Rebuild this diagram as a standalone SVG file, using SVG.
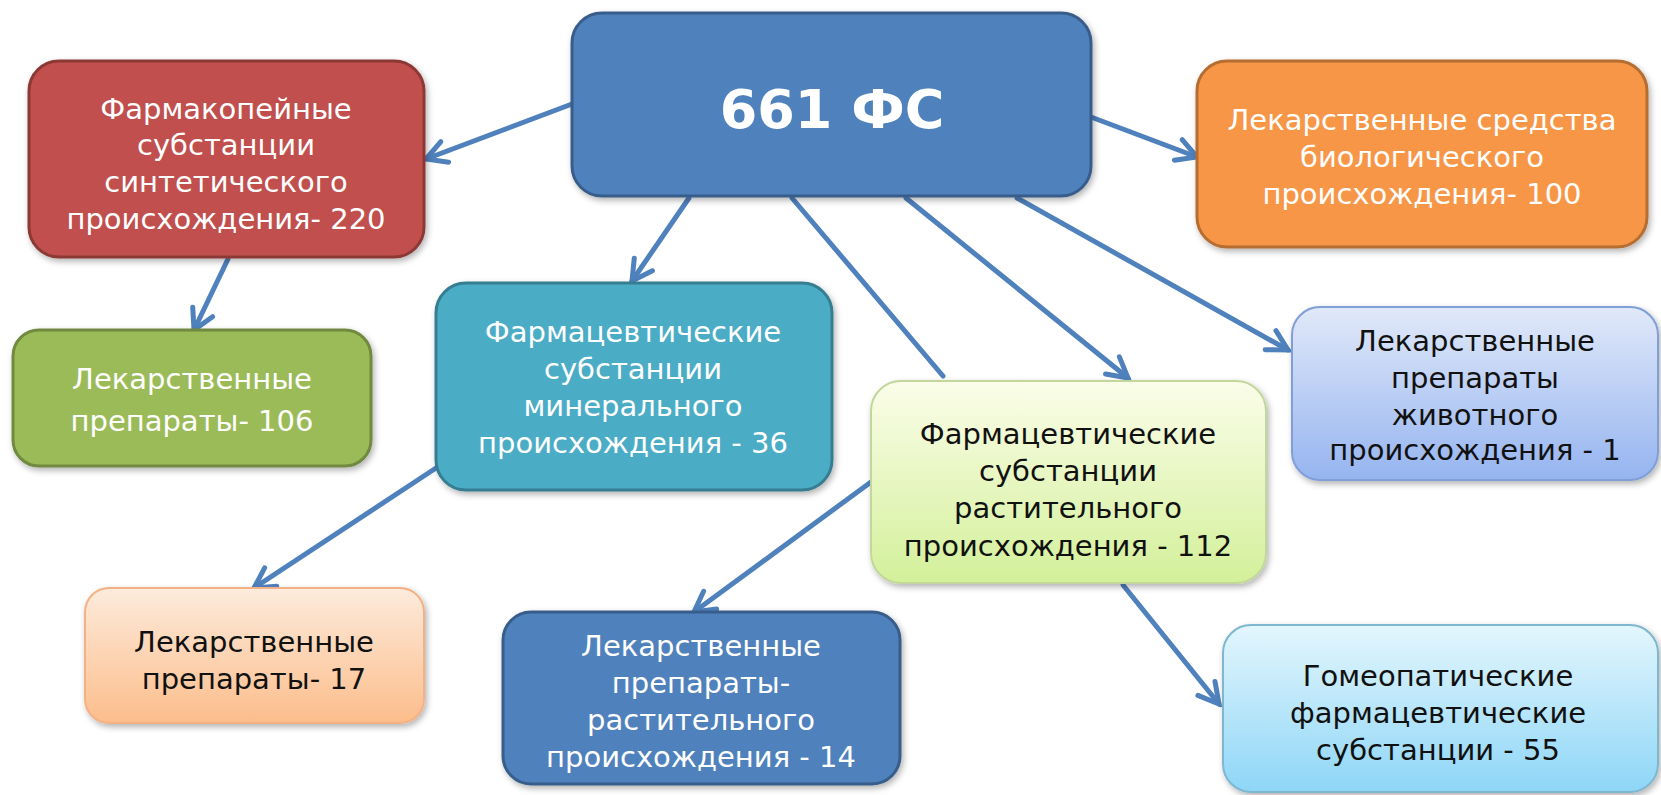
<svg xmlns="http://www.w3.org/2000/svg" width="1661" height="795" viewBox="0 0 1661 795">
<style>
.t{font-family:"DejaVu Sans","Liberation Sans",sans-serif;font-size:29px;text-anchor:middle}
.w{fill:#ffffff}
.k{fill:#111111}
.c{fill:none;stroke:#4f81bd;stroke-width:5;stroke-linecap:round}
</style>
<defs>
<marker id="ah" viewBox="0 0 30 30" refX="26" refY="15" markerWidth="30" markerHeight="30" markerUnits="userSpaceOnUse" orient="auto">
<path d="M6,4 L26,15 L6,26" fill="none" stroke="#4f81bd" stroke-width="5" stroke-linecap="round" stroke-linejoin="miter"/>
</marker>
<filter id="sh" x="-10%" y="-10%" width="125%" height="130%">
<feDropShadow dx="2" dy="3" stdDeviation="3" flood-color="#000" flood-opacity="0.3"/>
</filter>
<linearGradient id="gLG" x1="0" y1="0" x2="0" y2="1"><stop offset="0" stop-color="#fbfde9"/><stop offset="1" stop-color="#d3f09a"/></linearGradient>
<linearGradient id="gLB" x1="0" y1="0" x2="0" y2="1"><stop offset="0" stop-color="#e1e9f9"/><stop offset="1" stop-color="#95b4f0"/></linearGradient>
<linearGradient id="gPE" x1="0" y1="0" x2="0" y2="1"><stop offset="0" stop-color="#fdebdc"/><stop offset="1" stop-color="#fcbd8b"/></linearGradient>
<linearGradient id="gCY" x1="0" y1="0" x2="0" y2="1"><stop offset="0" stop-color="#e3f6fd"/><stop offset="1" stop-color="#8ed6f7"/></linearGradient>
</defs>

<g id="connectors">
<line class="c" x1="572" y1="104" x2="426" y2="159" marker-end="url(#ah)"/>
<line class="c" x1="228" y1="259" x2="194" y2="330" marker-end="url(#ah)"/>
<line class="c" x1="689" y1="198" x2="632" y2="281" marker-end="url(#ah)"/>
<line class="c" x1="792" y1="198" x2="943" y2="376"/>
<line class="c" x1="906" y1="198" x2="1128" y2="378" marker-end="url(#ah)"/>
<line class="c" x1="1017" y1="198" x2="1288" y2="350" marker-end="url(#ah)"/>
<line class="c" x1="1091" y1="117" x2="1197" y2="157" marker-end="url(#ah)"/>
<line class="c" x1="436" y1="468" x2="254" y2="588" marker-end="url(#ah)"/>
<line class="c" x1="871" y1="482" x2="694" y2="612" marker-end="url(#ah)"/>
<line class="c" x1="1123" y1="585" x2="1219" y2="704" marker-end="url(#ah)"/>
</g>

<g id="root">
<rect x="572" y="13" width="519" height="183" rx="30" fill="#4f81bd" stroke="#385d8a" stroke-width="3" filter="url(#sh)"/>
<text class="t w" x="832" y="128" style="font-size:54px;font-weight:bold">661 ФС</text>
</g>

<g id="synthetic">
<rect x="29" y="61" width="395" height="196" rx="30" fill="#c0504d" stroke="#8c3836" stroke-width="3" filter="url(#sh)"/>
<text class="t w" x="226" y="119">Фармакопейные</text>
<text class="t w" x="226" y="155">субстанции</text>
<text class="t w" x="226" y="192">синтетического</text>
<text class="t w" x="226" y="229">происхождения- 220</text>
</g>

<g id="biological">
<rect x="1197" y="61" width="450" height="186" rx="30" fill="#f79646" stroke="#b66d31" stroke-width="3" filter="url(#sh)"/>
<text class="t w" x="1422" y="130">Лекарственные средства</text>
<text class="t w" x="1422" y="167">биологического</text>
<text class="t w" x="1422" y="204">происхождения- 100</text>
</g>

<g id="drugs106">
<rect x="13" y="330" width="358" height="136" rx="26" fill="#9bbb59" stroke="#71893f" stroke-width="3" filter="url(#sh)"/>
<text class="t w" x="192" y="389">Лекарственные</text>
<text class="t w" x="192" y="431">препараты- 106</text>
</g>

<g id="mineral">
<rect x="436" y="283" width="396" height="207" rx="30" fill="#4bacc6" stroke="#357d91" stroke-width="3" filter="url(#sh)"/>
<text class="t w" x="633" y="342">Фармацевтические</text>
<text class="t w" x="633" y="379">субстанции</text>
<text class="t w" x="633" y="416">минерального</text>
<text class="t w" x="633" y="453">происхождения - 36</text>
</g>

<g id="plant">
<rect x="871" y="381" width="395" height="202" rx="30" fill="url(#gLG)" stroke="#c3d69b" stroke-width="2" filter="url(#sh)"/>
<text class="t k" x="1068" y="444">Фармацевтические</text>
<text class="t k" x="1068" y="481">субстанции</text>
<text class="t k" x="1068" y="518">растительного</text>
<text class="t k" x="1068" y="556">происхождения - 112</text>
</g>

<g id="animal">
<rect x="1292" y="307" width="366" height="173" rx="28" fill="url(#gLB)" stroke="#7f9fd6" stroke-width="2" filter="url(#sh)"/>
<text class="t k" x="1475" y="351">Лекарственные</text>
<text class="t k" x="1475" y="388">препараты</text>
<text class="t k" x="1475" y="425">животного</text>
<text class="t k" x="1475" y="460">происхождения - 1</text>
</g>

<g id="drugs17">
<rect x="85" y="588" width="339" height="135" rx="24" fill="url(#gPE)" stroke="#f4b183" stroke-width="2" filter="url(#sh)"/>
<text class="t k" x="254" y="652">Лекарственные</text>
<text class="t k" x="254" y="689">препараты- 17</text>
</g>

<g id="drugs14">
<rect x="503" y="612" width="397" height="172" rx="28" fill="#4f81bd" stroke="#385d8a" stroke-width="3" filter="url(#sh)"/>
<text class="t w" x="701" y="656">Лекарственные</text>
<text class="t w" x="701" y="693">препараты-</text>
<text class="t w" x="701" y="730">растительного</text>
<text class="t w" x="701" y="767">происхождения - 14</text>
</g>

<g id="homeopathic">
<rect x="1223" y="625" width="435" height="167" rx="28" fill="url(#gCY)" stroke="#7fb7cf" stroke-width="2" filter="url(#sh)"/>
<text class="t k" x="1438" y="686">Гомеопатические</text>
<text class="t k" x="1438" y="723">фармацевтические</text>
<text class="t k" x="1438" y="760">субстанции - 55</text>
</g>
</svg>
